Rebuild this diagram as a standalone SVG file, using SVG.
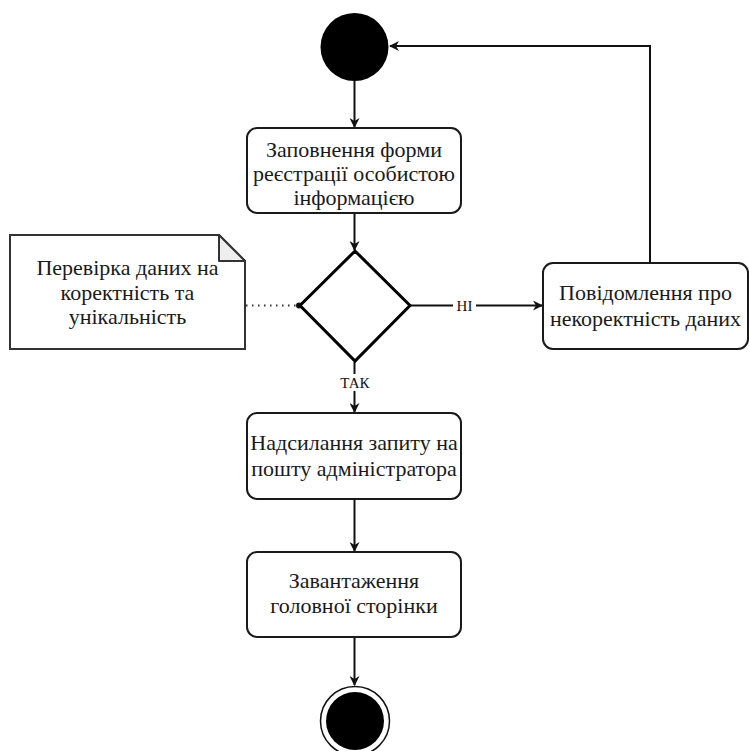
<svg xmlns="http://www.w3.org/2000/svg" width="749" height="751" viewBox="0 0 749 751">
  <style>
    .box { fill: #ffffff; stroke: #1a1a1a; stroke-width: 2; }
    .edge { fill: none; stroke: #111111; stroke-width: 2; }
  </style>
  <defs>
    <marker id="arrow" viewBox="0 0 10 10" refX="9" refY="5" markerWidth="10" markerHeight="10" markerUnits="userSpaceOnUse" orient="auto">
      <path d="M0,0 L10,5 L0,10 L3,5 Z" fill="#111111"/>
    </marker>
  </defs>

  <rect width="749" height="751" fill="#ffffff"/>

  <!-- connectors -->
  <g id="edges">
    <path class="edge" d="M354.5,81 L354.5,127" marker-end="url(#arrow)"/>
    <path class="edge" d="M354.5,213 L354.5,250" marker-end="url(#arrow)"/>
    <path class="edge" d="M354.5,362 L354.5,412" marker-end="url(#arrow)"/>
    <path class="edge" d="M354.5,499 L354.5,551" marker-end="url(#arrow)"/>
    <path class="edge" d="M354.5,637 L354.5,685" marker-end="url(#arrow)"/>
    <path class="edge" d="M410,305.5 L542,305.5" marker-end="url(#arrow)"/>
    <path class="edge" d="M650,263 L650,46 L390,46" marker-end="url(#arrow)"/>
    <path d="M246,305.5 L298,305.5" fill="none" stroke="#333333" stroke-width="2" stroke-dasharray="1.5 4.5"/>
    <circle cx="299" cy="305.5" r="3" fill="#111111"/>
    <rect x="334" y="374" width="42" height="17" fill="#ffffff"/>
    <rect x="453" y="298" width="23" height="15" fill="#ffffff"/>
    <g font-family="Liberation Serif, Times New Roman, serif" font-size="15" fill="#111111" text-anchor="middle">
      <text x="355" y="388">ТАК</text>
      <text x="464.5" y="310.5">НІ</text>
    </g>
  </g>

  <!-- start -->
  <g id="start">
    <circle cx="354.5" cy="47" r="34" fill="#000000"/>
  </g>

  <g id="fill-form">
    <rect class="box" x="247" y="128" width="214" height="85" rx="10"/>
    <g font-family="Liberation Serif, Times New Roman, serif" font-size="22" fill="#1a1a1a" text-anchor="middle">
      <text x="354" y="157">Заповнення форми</text>
      <text x="354" y="181">реєстрації особистою</text>
      <text x="354" y="205">інформацією</text>
    </g>
  </g>

  <g id="check">
    <polygon points="355,251 410,305.5 355,361 300,305.5" fill="#ffffff" stroke="#000000" stroke-width="3" stroke-linejoin="miter"/>
  </g>

  <g id="note">
    <path d="M10,235 L219,235 L245,261 L245,349 L10,349 Z" fill="#ffffff" stroke="#333333" stroke-width="2"/>
    <path d="M219,235 L219,261 L245,261 Z" fill="#eeeeee" stroke="#333333" stroke-width="2" stroke-linejoin="round"/>
    <g font-family="Liberation Serif, Times New Roman, serif" font-size="22" fill="#1a1a1a" text-anchor="middle">
      <text x="127.5" y="275">Перевірка даних на</text>
      <text x="127.5" y="300">коректність та</text>
      <text x="127.5" y="324">унікальність</text>
    </g>
  </g>

  <g id="error-msg">
    <rect class="box" x="543" y="263" width="205" height="86" rx="10"/>
    <g font-family="Liberation Serif, Times New Roman, serif" font-size="22" fill="#1a1a1a" text-anchor="middle">
      <text x="645.5" y="300">Повідомлення про</text>
      <text x="645.5" y="326">некоректність даних</text>
    </g>
  </g>

  <g id="send-request">
    <rect class="box" x="247" y="413" width="214" height="86" rx="10"/>
    <g font-family="Liberation Serif, Times New Roman, serif" font-size="22" fill="#1a1a1a" text-anchor="middle">
      <text x="354" y="450">Надсилання запиту на</text>
      <text x="354" y="476">пошту адміністратора</text>
    </g>
  </g>

  <g id="load-home">
    <rect class="box" x="247" y="552" width="214" height="85" rx="10"/>
    <g font-family="Liberation Serif, Times New Roman, serif" font-size="22" fill="#1a1a1a" text-anchor="middle">
      <text x="354" y="588">Завантаження</text>
      <text x="354" y="613">головної сторінки</text>
    </g>
  </g>

  <g id="end">
    <circle cx="355" cy="721" r="34.5" fill="#ffffff" stroke="#111111" stroke-width="1.5"/>
    <circle cx="355" cy="721" r="29" fill="#000000"/>
  </g>
</svg>
